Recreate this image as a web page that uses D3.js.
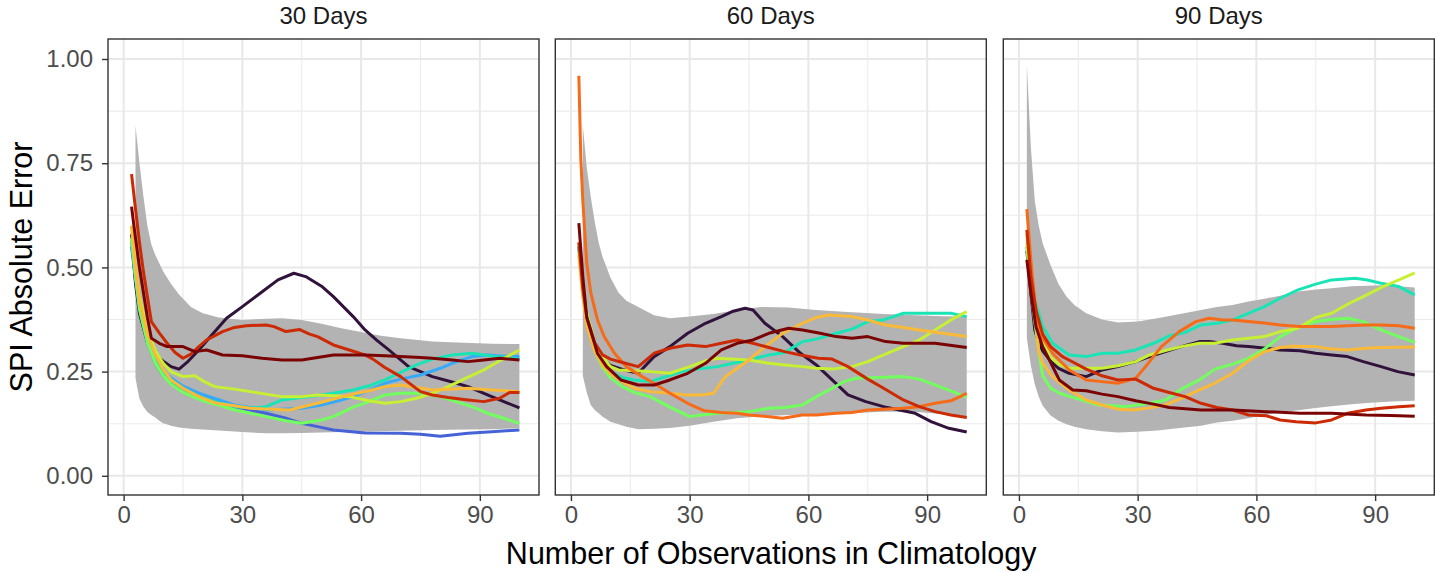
<!DOCTYPE html>
<html>
<head>
<meta charset="utf-8">
<script src="https://cdn.jsdelivr.net/npm/d3@7"></script>
<style>
  body { margin: 0; background: #fff; }
  svg { display: block; font-family: "Liberation Sans", Arial, Helvetica, sans-serif; }
</style>
</head>
<body>
<svg id="chart" width="1435" height="573"></svg>
<script>
// ---- Facets, ticks and colours ----
const facetLabels = ["30 Days", "60 Days", "90 Days"];
const xTicks = [0, 30, 60, 90];
const xMinor = [15, 45, 75];
const yTicks = [0, 0.25, 0.5, 0.75, 1];
const yTickLabels = ["0.00", "0.25", "0.50", "0.75", "1.00"];
const yMinor = [0.125, 0.375, 0.625, 0.875];
const lineColors = ["#30123B", "#4662D7", "#36AAF9", "#1AE4B6", "#72FE5E",
                    "#C7EF34", "#FABA39", "#F66B19", "#CB2A04", "#7A0403"];

// ---- 30 days: envelope [n, lower, upper] and site curves [n, error] ----
const band30 = [[3,.234,.84],[4,.185,.75],[5,.166,.67],[6,.153,.60],[7,.146,.555],[8,.14,.53],[9,.132,.51],[10,.126,.49],[12,.12,.46],[14,.116,.435],[17,.113,.405],[20,.111,.39],[24,.109,.38],[30,.105,.374],[36,.102,.377],[40,.102,.378],[45,.103,.374],[50,.104,.365],[55,.105,.354],[61,.106,.343],[65,.107,.336],[70,.108,.330],[78,.11,.322],[86,.111,.319],[93,.112,.317],[100,.114,.316]];
const p30_c1 = [[2,.58],[3,.46],[4,.39],[6,.32],[8,.29],[10,.275],[12,.262],[14,.256],[16,.272],[19,.302],[22,.335],[26,.378],[30,.406],[34.5,.438],[39,.47],[43,.486],[46,.478],[50,.455],[53,.43],[58,.382],[61,.35],[64,.325],[67,.302],[72,.262],[78,.238],[83,.225],[87,.214],[93,.19],[100,.163]];
const p30_c2 = [[2,.55],[3,.47],[4,.40],[6,.32],[8,.27],[10,.24],[12,.225],[15,.21],[19,.19],[24,.175],[28,.166],[36,.15],[41,.138],[45,.126],[49,.118],[53,.11],[61,.103],[70,.102],[75,.1],[80,.095],[87,.102],[93,.106],[100,.11]];
const p30_c3 = [[2,.56],[3,.48],[4,.41],[6,.33],[8,.28],[10,.25],[12,.235],[15,.215],[20,.195],[28,.17],[36,.158],[45,.162],[50,.17],[55,.182],[58,.19],[62,.205],[66,.222],[70,.232],[75,.242],[80,.258],[83,.27],[88,.286],[92,.29],[96,.287],[100,.286]];
const p30_c4 = [[2,.57],[3,.48],[4,.41],[6,.33],[8,.28],[10,.245],[12,.228],[15,.21],[19,.19],[24,.175],[28,.166],[33,.163],[36,.166],[40,.182],[45,.188],[50,.194],[54,.2],[58,.206],[62,.216],[66,.23],[70,.248],[74,.266],[78,.28],[83,.29],[88,.294],[94,.286],[100,.28]];
const p30_c5 = [[2,.57],[3,.48],[4,.40],[6,.32],[8,.27],[10,.24],[12,.22],[15,.2],[20,.18],[24,.17],[28,.158],[32,.15],[36,.142],[41,.132],[45,.126],[50,.134],[53,.142],[58,.165],[62,.178],[66,.194],[70,.198],[75,.198],[80,.19],[84,.178],[88,.166],[92,.15],[96,.138],[100,.126]];
const p30_c6 = [[2,.6],[3,.5],[4,.43],[6,.35],[8,.3],[10,.27],[12,.25],[15,.238],[18,.24],[20,.228],[23,.214],[28,.208],[32,.202],[36,.196],[40,.19],[45,.19],[49,.194],[53,.192],[57,.19],[62,.18],[66,.174],[70,.178],[74,.186],[78,.198],[82,.214],[86,.232],[91,.254],[95,.276],[100,.302]];
const p30_c7 = [[2,.6],[3,.5],[4,.42],[6,.34],[8,.29],[10,.255],[12,.23],[15,.21],[19,.19],[23.5,.174],[28,.168],[32,.162],[37,.16],[42,.158],[45,.165],[49,.174],[53,.184],[57,.194],[62,.204],[66,.214],[70,.218],[74,.212],[78,.206],[82,.208],[87,.21],[93,.206],[100,.202]];
const p30_c8 = [];
const p30_c9 = [[2,.724],[3,.64],[4,.56],[5,.49],[6,.43],[7,.37],[9,.343],[11,.318],[13,.296],[15,.282],[17,.292],[19,.31],[21,.326],[25,.346],[28,.356],[31,.36],[36,.362],[38,.358],[41,.346],[44.5,.351],[47,.34],[49,.334],[53,.314],[57,.302],[61,.29],[63,.28],[66,.26],[70,.238],[75,.202],[78,.194],[82,.188],[87,.182],[91,.178],[95,.186],[97.5,.2],[100,.2]];
const p30_c10 = [[2,.646],[3,.57],[4,.5],[5,.44],[6,.38],[7,.33],[9,.318],[11,.31],[15,.31],[18,.298],[21,.302],[25,.29],[30,.288],[35,.282],[40,.278],[45,.278],[49,.284],[53,.29],[57,.29],[61,.29],[66,.288],[70,.286],[75,.284],[78,.282],[83,.278],[87,.274],[91,.278],[95,.282],[100,.278]];

// ---- 60 days ----
const band60 = [[3,.24,.84],[4,.2,.74],[5,.17,.67],[6,.158,.61],[7,.15,.56],[8,.142,.525],[10,.13,.475],[12,.124,.44],[14,.118,.42],[17,.112,.405],[21,.113,.385],[25,.115,.378],[30,.12,.382],[36,.13,.388],[42,.138,.398],[48,.143,.405],[55,.146,.404],[62,.147,.398],[70,.15,.393],[79,.154,.388],[87,.154,.385],[94,.148,.383],[100,.138,.382]];
const p60_c1 = [[2,.55],[3,.45],[4,.38],[6,.31],[8,.28],[10,.265],[13,.255],[17,.246],[21,.286],[25,.31],[29.5,.342],[34,.366],[38,.382],[41,.395],[44,.402],[46,.398],[49,.366],[53.5,.334],[58,.294],[62,.266],[66,.23],[70,.194],[74.5,.178],[79,.166],[83,.158],[87,.15],[91,.13],[95.5,.114],[100,.105]];
const p60_c2 = [];
const p60_c3 = [];
const p60_c4 = [[2,.55],[3,.46],[4,.39],[6,.31],[8,.27],[10,.25],[13,.236],[16,.23],[20,.226],[24,.238],[28,.25],[32,.256],[37,.262],[41,.27],[45,.278],[50,.29],[54,.296],[58.5,.322],[62,.328],[67,.342],[71,.352],[75,.37],[79,.374],[84,.39],[88,.39],[92,.39],[96,.39],[100,.382]];
const p60_c5 = [[2,.54],[3,.44],[4,.37],[6,.3],[8,.26],[10,.235],[13,.214],[16,.2],[20,.19],[25,.165],[30,.142],[33,.146],[37,.15],[45,.154],[50,.162],[54,.164],[58.5,.17],[62,.19],[66,.21],[69,.226],[72,.234],[78,.236],[84,.238],[88,.232],[92,.218],[96,.204],[100,.188]];
const p60_c6 = [[2,.56],[3,.46],[4,.39],[6,.32],[8,.285],[10,.262],[12,.254],[16,.252],[20,.25],[25,.246],[30,.262],[34,.276],[37,.282],[45,.278],[50,.27],[54,.266],[58.5,.262],[62,.258],[66,.256],[71,.262],[75,.274],[79,.29],[84,.31],[88,.326],[92,.35],[96,.374],[100,.394]];
const p60_c7 = [[2,.53],[3,.43],[4,.36],[6,.3],[8,.265],[10,.245],[13,.225],[16,.21],[20,.202],[25,.198],[29,.194],[33,.194],[36,.198],[39,.238],[42,.258],[45,.278],[49,.31],[53.5,.342],[58.5,.366],[62,.38],[65,.386],[71,.382],[75,.374],[79.5,.362],[84,.356],[88,.35],[94,.342],[100,.334]];
const p60_c8 = [[2,.96],[2.5,.76],[3,.66],[4,.51],[5,.44],[6.7,.374],[8.4,.334],[11,.294],[14,.262],[18,.238],[21,.222],[25,.198],[29.5,.174],[33.7,.156],[38,.152],[42,.15],[45,.146],[50,.142],[53.5,.138],[58.5,.146],[62,.146],[67,.15],[71,.152],[75,.158],[79,.16],[84,.162],[88,.166],[92,.174],[96,.18],[100,.198]];
const p60_c9 = [[2,.56],[3,.45],[4,.38],[6,.32],[8,.29],[10,.28],[13,.272],[17,.262],[21,.294],[25,.306],[29.5,.314],[34,.31],[38,.318],[42,.326],[46,.318],[50,.308],[54,.298],[58,.29],[62.5,.282],[66,.28],[70,.262],[75,.232],[79,.21],[84,.182],[88,.166],[92,.154],[96,.146],[100,.14]];
const p60_c10 = [[2,.606],[3,.478],[4,.38],[6.7,.294],[9,.262],[12.6,.23],[17,.218],[21,.218],[25,.23],[29.5,.246],[34,.27],[38,.302],[42,.318],[46,.326],[50,.342],[55,.354],[58.5,.35],[63,.342],[67,.334],[71,.33],[75,.334],[79.5,.322],[84,.318],[92,.318],[100,.308]];

// ---- 90 days ----
const band90 = [[2,.33,.986],[3,.265,.79],[4,.22,.66],[5,.19,.6],[6,.168,.558],[8,.145,.505],[10,.132,.46],[12,.124,.43],[14,.118,.41],[17,.112,.39],[21,.107,.375],[25,.104,.368],[30,.106,.37],[35,.109,.378],[40,.114,.387],[46,.12,.398],[50,.128,.405],[54,.132,.41],[58,.138,.418],[62,.146,.425],[66,.152,.432],[71,.158,.443],[75,.163,.447],[79,.167,.45],[84,.172,.455],[88,.175,.456],[92,.177,.457],[96,.179,.455],[100,.18,.452]];
const p90_c1 = [[2,.54],[3,.44],[4,.35],[5,.32],[6,.3],[8,.275],[10,.258],[12.7,.246],[17,.238],[21,.254],[25,.262],[29.5,.274],[33,.286],[37,.298],[41,.31],[45.6,.322],[48,.322],[51.5,.318],[55,.312],[58,.31],[62.5,.306],[66,.302],[71,.3],[75,.294],[79,.29],[83,.286],[87,.274],[91.5,.262],[95.7,.25],[100,.242]];
const p90_c2 = [];
const p90_c3 = [];
const p90_c4 = [[2,.55],[3,.47],[4,.42],[5,.39],[6,.358],[8.5,.318],[12.7,.29],[17,.286],[21,.294],[25,.294],[29.5,.302],[34,.318],[38,.336],[42,.344],[46,.362],[50,.366],[54,.374],[58,.39],[62,.406],[66,.426],[70.5,.446],[75,.46],[79,.47],[85,.474],[88,.47],[91.5,.462],[96,.454],[100,.434]];
const p90_c5 = [[2,.55],[3,.45],[4,.37],[5,.3],[6,.24],[8,.21],[10.3,.198],[13,.19],[16,.182],[20,.17],[24,.168],[27,.166],[33,.174],[37,.182],[41.4,.21],[45.6,.23],[49.5,.256],[54,.268],[58,.282],[62,.304],[66,.334],[70.5,.356],[75,.37],[79,.375],[83,.378],[87,.37],[91.5,.35],[96,.334],[100,.32]];
const p90_c6 = [[2,.56],[3,.46],[4,.39],[6,.32],[8,.285],[10,.268],[12.7,.258],[17,.258],[21,.258],[25,.264],[29.5,.274],[33,.29],[37.5,.302],[41,.31],[45.6,.318],[49.4,.318],[54,.326],[58,.33],[62,.334],[66,.346],[70.5,.354],[75,.38],[79,.39],[83.5,.414],[87,.43],[92,.454],[96,.47],[100,.487]];
const p90_c7 = [[2,.58],[3,.49],[4,.4],[5,.3],[6,.27],[8.5,.238],[12.7,.206],[17,.182],[21,.17],[25,.16],[29,.158],[33,.163],[37,.17],[41,.186],[45.6,.206],[49.4,.222],[54,.246],[58,.276],[62,.298],[66,.308],[69,.311],[75,.31],[79,.304],[83,.302],[87.7,.306],[91.5,.308],[100,.309]];
const p90_c8 = [[2,.64],[3,.518],[4,.42],[5,.36],[6,.33],[8.5,.294],[12.7,.254],[17,.23],[21,.226],[25,.222],[29.5,.234],[32,.262],[36,.31],[40.5,.346],[44.7,.37],[48,.378],[51.5,.374],[54,.374],[58,.37],[62.5,.366],[66,.362],[71,.358],[75,.358],[79,.358],[83,.36],[87.7,.362],[91.5,.362],[96,.36],[100,.354]];
const p90_c9 = [[2,.59],[3,.48],[4.3,.398],[6,.34],[8,.31],[11,.286],[13,.276],[17,.256],[21,.24],[25,.23],[29.5,.232],[34,.21],[38,.2],[42,.19],[46,.174],[50,.164],[54,.158],[58,.146],[62.5,.144],[66,.134],[70,.13],[75,.127],[79,.134],[83,.15],[87.7,.158],[91.5,.162],[96,.166],[100,.168]];
const p90_c10 = [[2,.518],[3,.44],[4.3,.358],[6,.31],[7.7,.278],[10.2,.23],[13.6,.206],[17,.204],[21,.196],[25,.19],[29.5,.18],[34,.172],[38,.164],[46,.158],[50,.158],[54,.158],[62.5,.154],[71,.15],[79,.15],[87.7,.146],[94,.145],[100,.143]];

const facetBands = [band30, band60, band90];
const facetLines = [
  [p30_c1, p30_c2, p30_c3, p30_c4, p30_c5, p30_c6, p30_c7, p30_c8, p30_c9, p30_c10],
  [p60_c1, p60_c2, p60_c3, p60_c4, p60_c5, p60_c6, p60_c7, p60_c8, p60_c9, p60_c10],
  [p90_c1, p90_c2, p90_c3, p90_c4, p90_c5, p90_c6, p90_c7, p90_c8, p90_c9, p90_c10]
];

// ---- Layout ----
const svg = d3.select("#chart");
const panelLeft = [108, 555.3, 1003.3];
const panelW = 431;
const panelTop = 39, panelBottom = 495;
const xDomain = [-3.95, 104.95];
const yDomain = [-0.046, 1.048];

const y = d3.scaleLinear().domain(yDomain).range([panelBottom, panelTop]);

facetLabels.forEach((label, i) => {
  const x0 = panelLeft[i];
  const x = d3.scaleLinear().domain(xDomain).range([x0, x0 + panelW]);
  const g = svg.append("g");

  // panel background and grid
  g.append("rect").attr("x", x0).attr("y", panelTop)
    .attr("width", panelW).attr("height", panelBottom - panelTop).attr("fill", "#fff");
  g.selectAll(".gx-minor").data(xMinor).join("line")
    .attr("x1", d => x(d)).attr("x2", d => x(d)).attr("y1", panelTop).attr("y2", panelBottom)
    .attr("stroke", "#ebebeb").attr("stroke-width", 1.1);
  g.selectAll(".gy-minor").data(yMinor).join("line")
    .attr("y1", d => y(d)).attr("y2", d => y(d)).attr("x1", x0).attr("x2", x0 + panelW)
    .attr("stroke", "#ebebeb").attr("stroke-width", 1.1);
  g.selectAll(".gx").data(xTicks).join("line")
    .attr("x1", d => x(d)).attr("x2", d => x(d)).attr("y1", panelTop).attr("y2", panelBottom)
    .attr("stroke", "#e8e8e8").attr("stroke-width", 2);
  g.selectAll(".gy").data(yTicks).join("line")
    .attr("y1", d => y(d)).attr("y2", d => y(d)).attr("x1", x0).attr("x2", x0 + panelW)
    .attr("stroke", "#e8e8e8").attr("stroke-width", 2);

  // envelope ribbon
  const area = d3.area().x(d => x(d[0])).y0(d => y(d[1])).y1(d => y(d[2]));
  g.append("path").datum(facetBands[i]).attr("d", area).attr("fill", "#b3b3b3");

  // site curves
  const line = d3.line().x(d => x(d[0])).y(d => y(d[1]));
  facetLines[i].forEach((series, k) => {
    if (!series.length) return;
    g.append("path").datum(series).attr("d", line)
      .attr("fill", "none").attr("stroke", lineColors[k])
      .attr("stroke-width", 3).attr("stroke-linejoin", "round").attr("stroke-linecap", "butt");
  });

  // border
  g.append("rect").attr("x", x0).attr("y", panelTop)
    .attr("width", panelW).attr("height", panelBottom - panelTop)
    .attr("fill", "none").attr("stroke", "#333333").attr("stroke-width", 1.4);

  // x axis
  const xAxis = d3.axisBottom(x).tickValues(xTicks).tickSize(6).tickPadding(5);
  const ax = g.append("g").attr("transform", `translate(0,${panelBottom})`).call(xAxis);
  ax.select(".domain").remove();
  ax.selectAll(".tick line").attr("stroke", "#333333").attr("stroke-width", 1.4);
  ax.selectAll(".tick text").attr("fill", "#4d4d4d").attr("font-size", 24)
    .attr("font-family", "Liberation Sans, Arial, sans-serif");

  // y axis only on first panel
  if (i === 0) {
    const yAxis = d3.axisLeft(y).tickValues(yTicks).tickSize(6).tickPadding(9)
      .tickFormat((d, j) => yTickLabels[j]);
    const ay = g.append("g").attr("transform", `translate(${x0},0)`).call(yAxis);
    ay.select(".domain").remove();
    ay.selectAll(".tick line").attr("stroke", "#333333").attr("stroke-width", 1.4);
    ay.selectAll(".tick text").attr("fill", "#4d4d4d").attr("font-size", 24)
      .attr("font-family", "Liberation Sans, Arial, sans-serif");
  }

  // facet strip label
  g.append("text").attr("x", x0 + panelW / 2).attr("y", 24)
    .attr("text-anchor", "middle").attr("font-size", 24).attr("fill", "#1a1a1a")
    .text(label);
});

// axis titles
svg.append("text").attr("x", (panelLeft[0] + panelLeft[2] + panelW) / 2).attr("y", 564)
  .attr("text-anchor", "middle").attr("font-size", 30.5).attr("fill", "#000")
  .text("Number of Observations in Climatology");
svg.append("text")
  .attr("transform", `translate(32,${(panelTop + panelBottom) / 2}) rotate(-90)`)
  .attr("text-anchor", "middle").attr("font-size", 30.5).attr("fill", "#000")
  .text("SPI Absolute Error");
</script>
</body>
</html>
